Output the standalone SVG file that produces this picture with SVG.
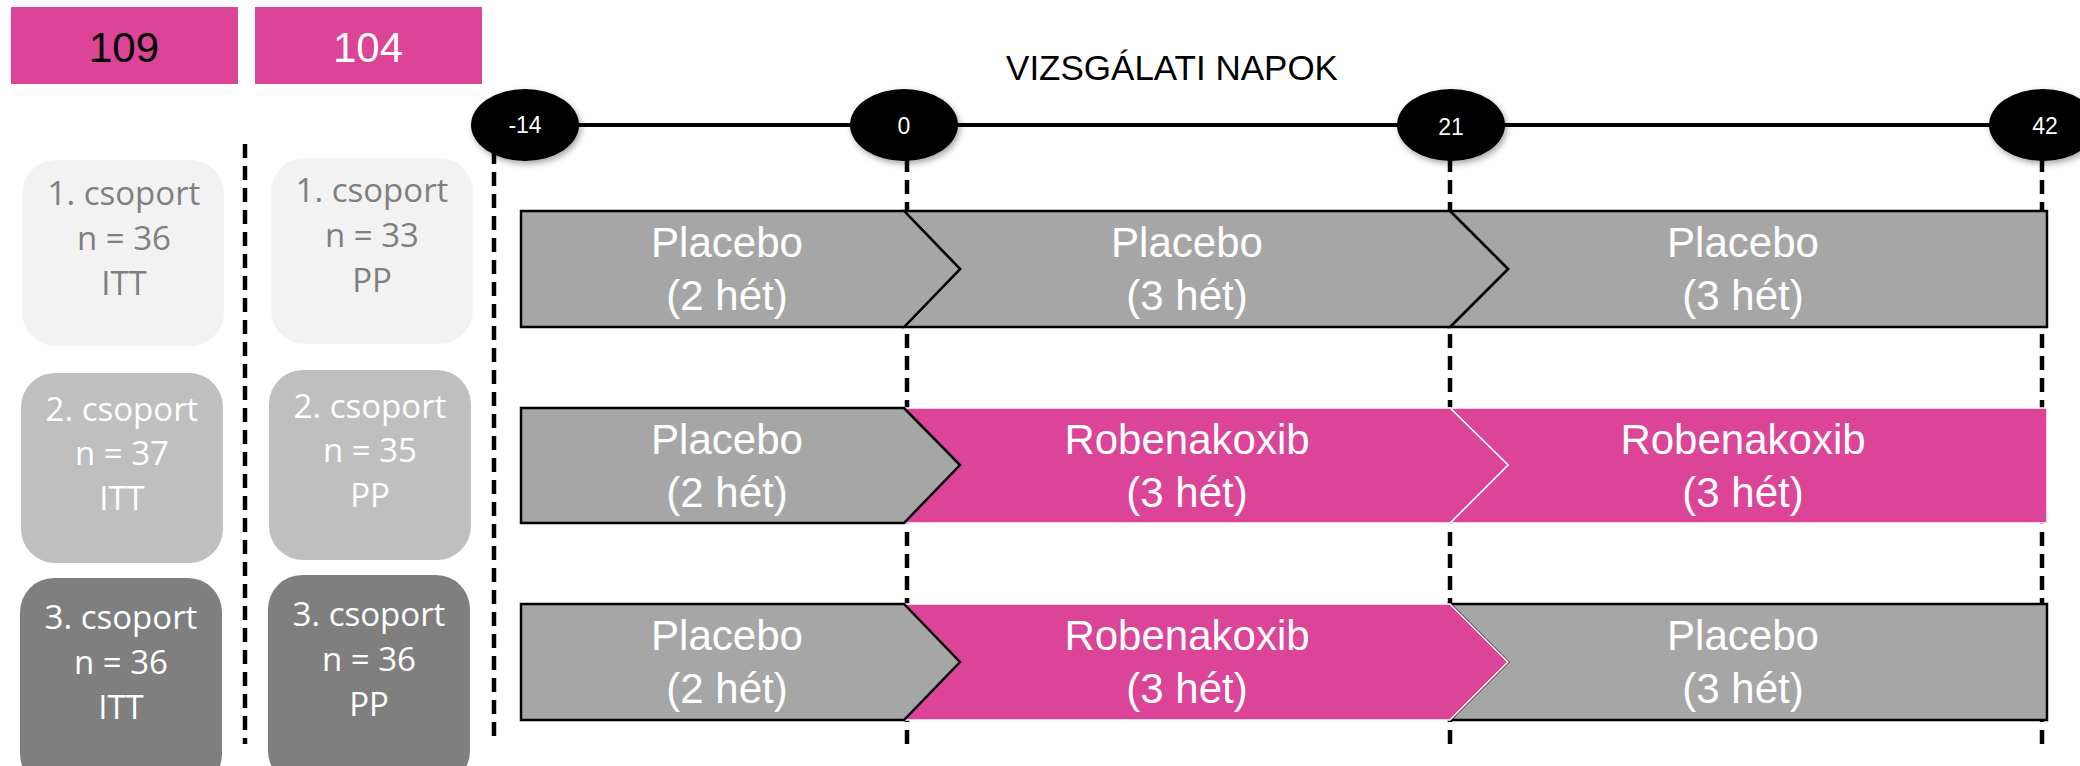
<svg xmlns="http://www.w3.org/2000/svg" width="2080" height="766" viewBox="0 0 2080 766">
<defs>
<style>
.pinkbox{fill:#db4497}
.hdr{font-family:"Liberation Sans",Arial,sans-serif;font-size:42px;text-anchor:middle}
.title{font-family:"Liberation Sans",Arial,sans-serif;font-size:35px;text-anchor:middle;fill:#000}
.grp{font-family:"Open Sans","Liberation Sans",sans-serif;font-size:33px;text-anchor:middle}
.bar{font-family:"Liberation Sans",Arial,sans-serif;font-size:42px;fill:#fff;text-anchor:middle}
.day{font-family:"Liberation Sans",Arial,sans-serif;font-size:23px;fill:#fff;text-anchor:middle}
.dash{stroke:#000;stroke-width:4.5;stroke-dasharray:14 8;fill:none}
.axis{stroke:#000;stroke-width:4;fill:none}
.g1{fill:#f2f2f2}
.g2{fill:#bfbfbf}
.g3{fill:#7f7f7f}
.t1{fill:#7f7f7f}
.tw{fill:#fff}
.sg{fill:#a6a6a6;stroke:#000;stroke-width:2.5;stroke-linejoin:miter}
.sp{fill:#db4497;stroke:#fff;stroke-width:1.5;stroke-linejoin:miter}
.node{fill:#000}
</style>
<filter id="sh" x="-20%" y="-20%" width="150%" height="160%"><feDropShadow dx="2" dy="3" stdDeviation="3" flood-color="#000" flood-opacity="0.35"/></filter>
</defs>
<rect width="2080" height="766" fill="#fff"/>

<g id="total-itt">
<rect class="pinkbox" x="11" y="7" width="227" height="77"/>
<text class="hdr" x="124" y="62" fill="#000">109</text>
</g>
<g id="total-pp">
<rect class="pinkbox" x="255" y="7" width="227" height="77"/>
<text class="hdr" x="368" y="62" fill="#fff">104</text>
</g>

<text id="title" class="title" x="1172" y="80">VIZSGÁLATI NAPOK</text>

<g id="connectors">
<line class="axis" x1="575" y1="125" x2="1995" y2="125"/>
<line class="dash" x1="245" y1="144" x2="245" y2="744"/>
<line class="dash" x1="494" y1="150" x2="494" y2="740"/>
<line class="dash" x1="907" y1="158" x2="907" y2="748"/>
<line class="dash" x1="1450" y1="158" x2="1450" y2="748"/>
<line class="dash" x1="2042" y1="158" x2="2042" y2="748"/>
</g>

<g id="day-m14"><ellipse class="node" cx="525" cy="125" rx="54" ry="36" filter="url(#sh)"/><text class="day" x="525" y="133">-14</text></g>
<g id="day-0"><ellipse class="node" cx="904" cy="125" rx="54" ry="36" filter="url(#sh)"/><text class="day" x="904" y="134">0</text></g>
<g id="day-21"><ellipse class="node" cx="1451" cy="125" rx="54" ry="36" filter="url(#sh)"/><text class="day" x="1451" y="135">21</text></g>
<g id="day-42"><ellipse class="node" cx="2043" cy="125" rx="54" ry="36" filter="url(#sh)"/><text class="day" x="2045" y="134">42</text></g>

<g id="itt-1">
<rect class="g1" x="22" y="160" width="202" height="186" rx="34"/>
<text class="grp t1" x="124" y="205">1. csoport</text>
<text class="grp t1" x="124" y="250">n = 36</text>
<text class="grp t1" x="124" y="295">ITT</text>
</g>
<g id="itt-2">
<rect class="g2" x="21" y="373" width="202" height="190" rx="34"/>
<text class="grp tw" x="122" y="421">2. csoport</text>
<text class="grp tw" x="122" y="465">n = 37</text>
<text class="grp tw" x="122" y="510">ITT</text>
</g>
<g id="itt-3">
<rect class="g3" x="20" y="578" width="202" height="210" rx="34"/>
<text class="grp tw" x="121" y="629">3. csoport</text>
<text class="grp tw" x="121" y="674">n = 36</text>
<text class="grp tw" x="121" y="719">ITT</text>
</g>

<g id="pp-1">
<rect class="g1" x="271" y="158" width="202" height="186" rx="34"/>
<text class="grp t1" x="372" y="202">1. csoport</text>
<text class="grp t1" x="372" y="247">n = 33</text>
<text class="grp t1" x="372" y="292">PP</text>
</g>
<g id="pp-2">
<rect class="g2" x="269" y="370" width="202" height="190" rx="34"/>
<text class="grp tw" x="370" y="418">2. csoport</text>
<text class="grp tw" x="370" y="462">n = 35</text>
<text class="grp tw" x="370" y="507">PP</text>
</g>
<g id="pp-3">
<rect class="g3" x="268" y="575" width="202" height="210" rx="34"/>
<text class="grp tw" x="369" y="626">3. csoport</text>
<text class="grp tw" x="369" y="671">n = 36</text>
<text class="grp tw" x="369" y="716">PP</text>
</g>

<g id="row1">
<g id="r1c"><polygon class="sg" points="1450,211 2047,211 2047,327 1450,327 1508,269"/><text class="bar" x="1743" y="257">Placebo</text><text class="bar" x="1743" y="310">(3 hét)</text></g>
<g id="r1b"><polygon class="sg" points="904,211 1450,211 1508,269 1450,327 904,327 960,269"/><text class="bar" x="1187" y="257">Placebo</text><text class="bar" x="1187" y="310">(3 hét)</text></g>
<g id="r1a"><polygon class="sg" points="521,211 904,211 960,269 904,327 521,327"/><text class="bar" x="727" y="257">Placebo</text><text class="bar" x="727" y="310">(2 hét)</text></g>
</g>

<g id="row2">
<g id="r2c"><polygon class="sp" points="1450,408 2047,408 2047,523 1450,523 1508,465"/><text class="bar" x="1743" y="454">Robenakoxib</text><text class="bar" x="1743" y="507">(3 hét)</text></g>
<g id="r2b"><polygon class="sp" points="904,408 1450,408 1508,465 1450,523 904,523 960,465"/><text class="bar" x="1187" y="454">Robenakoxib</text><text class="bar" x="1187" y="507">(3 hét)</text></g>
<g id="r2a"><polygon class="sg" points="521,408 904,408 960,465 904,523 521,523"/><text class="bar" x="727" y="454">Placebo</text><text class="bar" x="727" y="507">(2 hét)</text></g>
</g>

<g id="row3">
<g id="r3c"><polygon class="sg" points="1450,604 2047,604 2047,720 1450,720 1508,662"/><text class="bar" x="1743" y="650">Placebo</text><text class="bar" x="1743" y="703">(3 hét)</text></g>
<g id="r3b"><polygon class="sp" points="904,604 1450,604 1508,662 1450,720 904,720 960,662"/><text class="bar" x="1187" y="650">Robenakoxib</text><text class="bar" x="1187" y="703">(3 hét)</text></g>
<g id="r3a"><polygon class="sg" points="521,604 904,604 960,662 904,720 521,720"/><text class="bar" x="727" y="650">Placebo</text><text class="bar" x="727" y="703">(2 hét)</text></g>
</g>
</svg>
